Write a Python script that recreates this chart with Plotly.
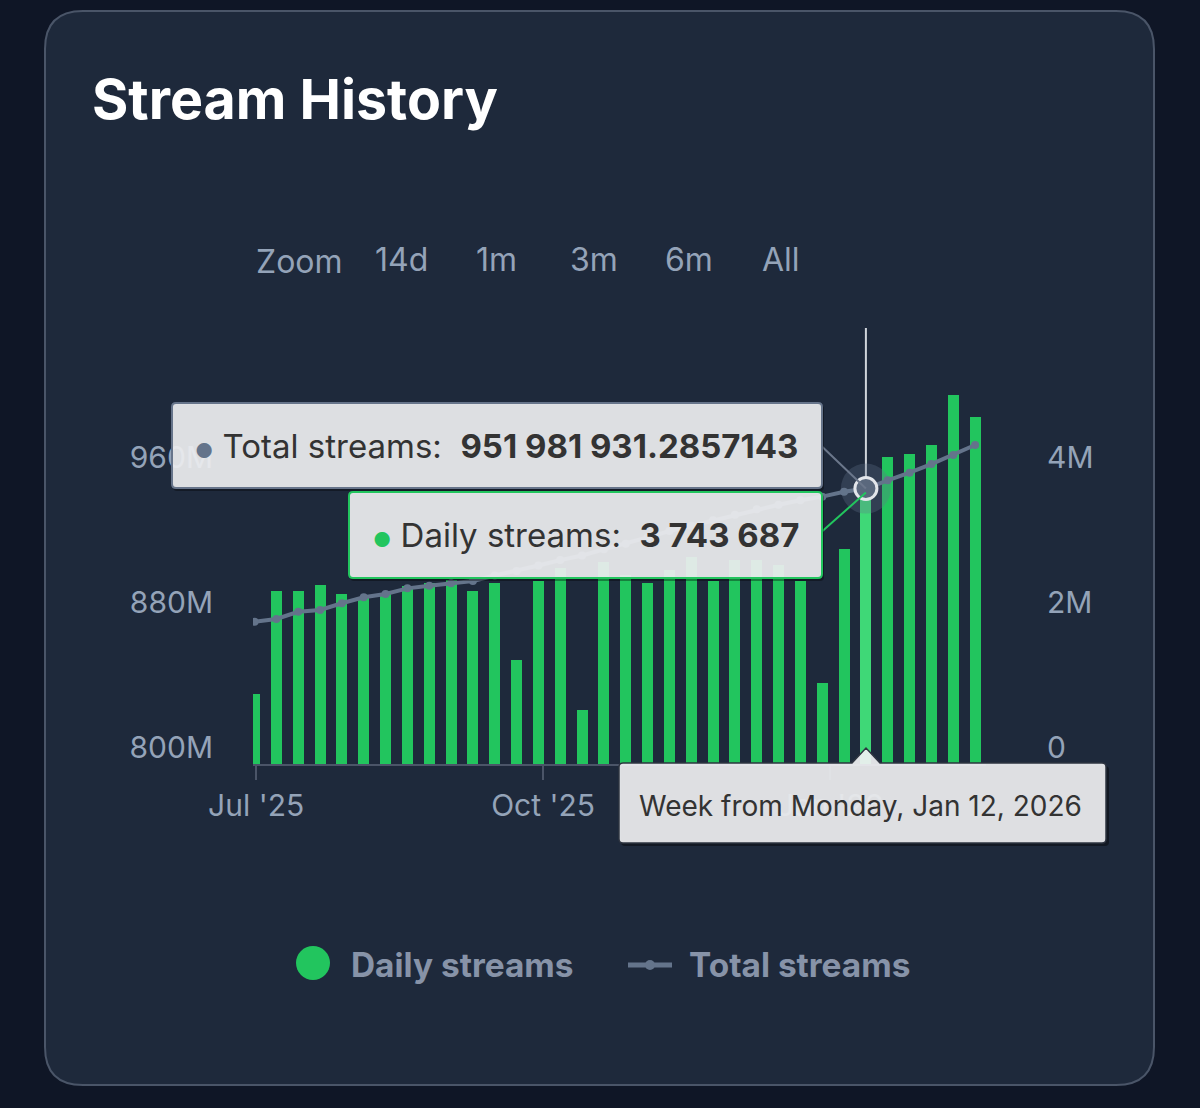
import plotly.graph_objects as go
import pandas as pd

# ---------------- data ----------------
week_start = list(pd.date_range("2025-06-30", periods=34, freq="7D"))
daily_streams = [
    0.97e6, 2.39e6, 2.39e6, 2.47e6, 2.35e6, 2.30e6, 2.36e6, 2.45e6, 2.49e6, 2.54e6,
    2.39e6, 2.50e6, 1.43e6, 2.52e6, 2.71e6, 0.74e6, 2.79e6, 2.61e6, 2.50e6, 2.67e6,
    2.85e6, 2.52e6, 2.81e6, 2.81e6, 2.74e6, 2.52e6, 1.12e6, 2.97e6, 3743687, 4.24e6,
    4.28e6, 4.40e6, 5.09e6, 4.78e6,
]
total_streams = [
    878.5e6, 880.0e6, 884.0e6, 885.0e6, 888.7e6, 892.0e6, 893.8e6, 896.9e6, 898.4e6, 899.7e6,
    901.0e6, 904.0e6, 906.5e6, 909.5e6, 912.5e6, 915.0e6, 918.5e6, 921.5e6, 925.0e6, 928.5e6,
    931.5e6, 934.5e6, 937.5e6, 940.5e6, 943.0e6, 945.5e6, 947.5e6, 950.2e6, 951981931.2857143, 956.5e6,
    960.7e6, 965.5e6, 970.5e6, 976.0e6,
]
highlight_index = 28
x_tick_vals = ["2025-07-01", "2025-10-01", "2026-01-01"]
x_tick_text = ["Jul '25", "Oct '25", "Jan '26"]
left_tick_vals = [800e6, 880e6, 960e6]
left_tick_text = ["800M", "880M", "960M"]
right_tick_vals = [0, 2e6, 4e6]
right_tick_text = ["0", "2M", "4M"]
zoom_labels = ["Zoom", "14d", "1m", "3m", "6m", "All"]
title_text = "Stream History"
series_names = ["Daily streams", "Total streams"]
date_label = "Week from Monday, Jan 12, 2026"

# ---------------- styling ----------------
W, H = 1200, 1108
FONT = "Inter"
GREEN = "#22c55e"
GREEN_HI = "#3fd877"
LINEC = "#64748b"
LABEL = "#94a3b8"
CARD = "#1e293b"
PAGE = "#0f1626"
TIP_FILL = "rgba(244,245,247,0.90)"


def px(x):
    return x / W


def py(y):
    return 1 - y / H


def rrect_path(x0, y0, x1, y1, r):
    pts = [
        f"M{px(x0 + r)},{py(y0)}", f"L{px(x1 - r)},{py(y0)}", f"Q{px(x1)},{py(y0)} {px(x1)},{py(y0 + r)}",
        f"L{px(x1)},{py(y1 - r)}", f"Q{px(x1)},{py(y1)} {px(x1 - r)},{py(y1)}",
        f"L{px(x0 + r)},{py(y1)}", f"Q{px(x0)},{py(y1)} {px(x0)},{py(y1 - r)}",
        f"L{px(x0)},{py(y0 + r)}", f"Q{px(x0)},{py(y0)} {px(x0 + r)},{py(y0)}", "Z",
    ]
    return " ".join(pts)


bar_x = [d + pd.Timedelta(hours=12) for d in week_start]
bar_colors = [GREEN_HI if i == highlight_index else GREEN for i in range(len(daily_streams))]
bar_width_ms = 3.53 * 86400000

fig = go.Figure()
fig.add_trace(go.Bar(
    x=bar_x, y=daily_streams, width=bar_width_ms, marker=dict(color=bar_colors, line=dict(width=0)),
    yaxis="y", showlegend=False, hoverinfo="skip", name=series_names[0],
))
fig.add_trace(go.Scatter(
    x=bar_x, y=total_streams, yaxis="y2", mode="lines+markers",
    line=dict(color=LINEC, width=4), marker=dict(size=8, color=LINEC),
    showlegend=False, hoverinfo="skip", name=series_names[1],
))
hx = [bar_x[highlight_index]]
hy = [total_streams[highlight_index]]
fig.add_trace(go.Scatter(x=hx, y=hy, yaxis="y2", mode="markers",
                         marker=dict(size=50, color="rgba(100,116,139,0.30)"),
                         showlegend=False, hoverinfo="skip"))
fig.add_trace(go.Scatter(x=hx, y=hy, yaxis="y2", mode="markers",
                         marker=dict(size=22, color="#5a687d", line=dict(color="#e3e6eb", width=3)),
                         showlegend=False, hoverinfo="skip"))

shapes = []
# card
shapes.append(dict(type="path", xref="paper", yref="paper", layer="below",
                   path=rrect_path(45, 11, 1154, 1085, 38), fillcolor=CARD,
                   line=dict(color="#4a5568", width=2)))
# crosshair
shapes.append(dict(type="line", xref="x", yref="paper", layer="below",
                   x0=hx[0], x1=hx[0], y0=py(764), y1=py(328),
                   line=dict(color="#cfd3da", width=2)))

# tooltip connectors (anchored at the hovered point, pixel offsets)
shapes.append(dict(type="line", layer="above", xref="x", yref="y2",
                   xsizemode="pixel", xanchor=hx[0], ysizemode="pixel", yanchor=hy[0],
                   x0=-44, x1=0, y0=42, y1=0, line=dict(color="#6b778b", width=2)))
shapes.append(dict(type="line", layer="above", xref="x", yref="y2",
                   xsizemode="pixel", xanchor=hx[0], ysizemode="pixel", yanchor=hy[0],
                   x0=-44, x1=0, y0=-43, y1=-4, line=dict(color=GREEN, width=2)))

# tooltip boxes with shadows
for (x0, y0, x1, y1, border) in [(172, 403, 822, 488, "#66748a"), (349, 492, 822, 578, GREEN)]:
    shapes.append(dict(type="path", xref="paper", yref="paper", layer="above",
                       path=rrect_path(x0 + 1, y0 + 2, x1 + 2, y1 + 3, 4),
                       fillcolor="rgba(0,0,0,0.35)", line=dict(width=0)))
    shapes.append(dict(type="path", xref="paper", yref="paper", layer="above",
                       path=rrect_path(x0, y0, x1, y1, 4),
                       fillcolor=TIP_FILL, line=dict(color=border, width=2)))

# date tooltip with callout
cx = 866
date_path = (
    f"M{px(623)},{py(763)} L{px(cx - 14)},{py(763)} L{px(cx)},{py(748)} L{px(cx + 14)},{py(763)} "
    f"L{px(1102)},{py(763)} Q{px(1106)},{py(763)} {px(1106)},{py(767)} L{px(1106)},{py(839)} "
    f"Q{px(1106)},{py(843)} {px(1102)},{py(843)} L{px(623)},{py(843)} Q{px(619)},{py(843)} {px(619)},{py(839)} "
    f"L{px(619)},{py(767)} Q{px(619)},{py(763)} {px(623)},{py(763)} Z"
)
shapes.append(dict(type="path", xref="paper", yref="paper", layer="above",
                   path=rrect_path(621, 766, 1109, 846, 4), fillcolor="rgba(0,0,0,0.4)", line=dict(width=0)))
shapes.append(dict(type="path", xref="paper", yref="paper", layer="above",
                   path=date_path, fillcolor="rgba(240,241,243,0.92)", line=dict(color="#2e3440", width=1.5)))

# legend symbols
shapes.append(dict(type="circle", xref="paper", yref="paper", layer="above",
                   x0=px(296), x1=px(330), y0=py(980), y1=py(946), fillcolor=GREEN, line=dict(width=0)))
shapes.append(dict(type="line", xref="paper", yref="paper", layer="above",
                   x0=px(628), x1=px(672), y0=py(965), y1=py(965), line=dict(color=LINEC, width=5)))
shapes.append(dict(type="circle", xref="paper", yref="paper", layer="above",
                   x0=px(645), x1=px(655), y0=py(970), y1=py(960), fillcolor=LINEC, line=dict(width=0)))

annotations = []
annotations.append(dict(text=f"<b>{title_text}</b>", x=px(90), y=py(98), xref="paper", yref="paper",
                        xanchor="left", yanchor="middle", showarrow=False,
                        font=dict(family=FONT, size=55.5, color="#ffffff")))
zoom_x = [299, 401, 496, 594, 689, 781]
for lab, zx in zip(zoom_labels, zoom_x):
    annotations.append(dict(text=lab, x=px(zx), y=py(261 if lab == "Zoom" else 259), xref="paper", yref="paper",
                            xanchor="center", yanchor="middle", showarrow=False,
                            font=dict(family=FONT, size=32, color=LABEL)))
annotations.append(dict(
    text=f"<span style='color:{LINEC};font-size:20px'>●</span> Total streams:  <b>951 981 931.2857143</b>",
    x=px(193), y=py(446), xref="paper", yref="paper", xanchor="left", yanchor="middle", showarrow=False,
    font=dict(family=FONT, size=33, color="#333333")))
annotations.append(dict(
    text=f"<span style='color:{GREEN};font-size:20px'>●</span> Daily streams:  <b>3 743 687</b>",
    x=px(371), y=py(535), xref="paper", yref="paper", xanchor="left", yanchor="middle", showarrow=False,
    font=dict(family=FONT, size=33, color="#333333")))
annotations.append(dict(
    text=date_label, x=px(860), y=py(806), xref="paper", yref="paper", xanchor="center", yanchor="middle",
    showarrow=False, font=dict(family=FONT, size=28, color="#333333")))
annotations.append(dict(text=f"<b>{series_names[0]}</b>", x=px(349), y=py(965), xref="paper", yref="paper",
                        xanchor="left", yanchor="middle", showarrow=False,
                        font=dict(family=FONT, size=33.4, color="#8793a8")))
annotations.append(dict(text=f"<b>{series_names[1]}</b>", x=px(687), y=py(965), xref="paper", yref="paper",
                        xanchor="left", yanchor="middle", showarrow=False,
                        font=dict(family=FONT, size=33.4, color="#8793a8")))

fig.update_layout(
    width=W, height=H, autosize=False,
    margin=dict(l=0, r=0, t=0, b=0, pad=0, autoexpand=False),
    paper_bgcolor=PAGE, plot_bgcolor="rgba(0,0,0,0)",
    font=dict(family=FONT, color=LABEL),
    bargap=0, showlegend=False, hovermode=False,
    xaxis=dict(
        domain=[px(253), px(986)], range=["2025-06-30", "2026-02-20"], type="date",
        tickvals=x_tick_vals, ticktext=x_tick_text, showgrid=False, zeroline=False,
        showline=True, linecolor="#4b5568", linewidth=2, ticks="outside", ticklen=14,
        tickcolor="#4b5568", tickwidth=2, tickfont=dict(family=FONT, size=30, color=LABEL),
        anchor="y", fixedrange=True, automargin=False,
    ),
    yaxis=dict(
        domain=[py(764), py(328)], range=[0, 436 / 72.5 * 1e6], side="right",
        tickvals=right_tick_vals, ticktext=right_tick_text, showgrid=False, zeroline=False,
        showline=False, ticks="", ticklabelshift=-17, ticklabelstandoff=60,
        tickfont=dict(family=FONT, size=30, color=LABEL), fixedrange=True, automargin=False,
    ),
    yaxis2=dict(
        overlaying="y", side="left", range=[800e6, 800e6 + 436 / 145 * 80e6],
        tickvals=left_tick_vals, ticktext=left_tick_text, showgrid=False, zeroline=False,
        showline=False, ticks="", ticklabelshift=-17, ticklabelstandoff=39,
        tickfont=dict(family=FONT, size=30, color=LABEL), fixedrange=True, automargin=False,
    ),
    shapes=shapes, annotations=annotations,
)

fig.write_html("out.html")
